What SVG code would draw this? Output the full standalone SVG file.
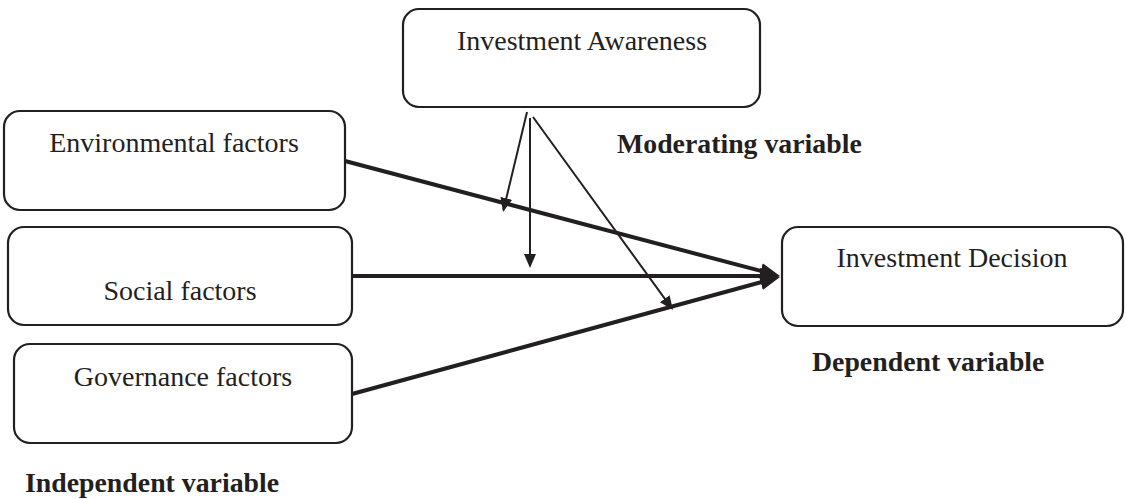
<svg xmlns="http://www.w3.org/2000/svg" width="1126" height="499" viewBox="0 0 1126 499">
<style>
.box{fill:#fff;stroke:#231f20;stroke-width:2.2}
.t{font-family:"Liberation Serif","Times New Roman",serif;font-size:28px;fill:#231f20;text-anchor:middle}
.b{font-family:"Liberation Serif","Times New Roman",serif;font-size:27.8px;font-weight:bold;fill:#231f20}
.thick{stroke:#231f20;stroke-width:4;fill:none}
.thin{stroke:#231f20;stroke-width:2;fill:none}
</style>
<defs>
<marker id="big" markerUnits="userSpaceOnUse" markerWidth="20" markerHeight="16" refX="14" refY="8" orient="auto" viewBox="0 0 20 16"><path d="M0,0 L20,8 L0,16 z" fill="#231f20"/></marker>
<marker id="small" markerUnits="userSpaceOnUse" markerWidth="14" markerHeight="12" refX="12" refY="6" orient="auto" viewBox="0 0 14 12"><path d="M0,0 L14,6 L0,12 z" fill="#231f20"/></marker>
</defs>
<rect width="1126" height="499" fill="#fff"/>
<g id="awareness"><rect class="box" x="403" y="9" width="357" height="98" rx="16"/><text class="t" x="582" y="50">Investment Awareness</text></g>
<g id="environmental"><rect class="box" x="4" y="111" width="341" height="99" rx="16"/><text class="t" x="174" y="152">Environmental factors</text></g>
<g id="social"><rect class="box" x="8" y="227" width="344" height="98" rx="16"/><text class="t" x="180" y="300">Social factors</text></g>
<g id="governance"><rect class="box" x="14" y="344" width="338" height="99" rx="16"/><text class="t" x="183" y="386">Governance factors</text></g>
<g id="decision"><rect class="box" x="782" y="227" width="341" height="99" rx="16"/><text class="t" x="952" y="267">Investment Decision</text></g>
<g id="labels">
<text class="b" x="617" y="153">Moderating variable</text>
<text class="b" x="812" y="371">Dependent variable</text>
<text class="b" x="25" y="492">Independent variable</text>
</g>
<g id="connectors">
<line class="thick" x1="345" y1="161" x2="774.2" y2="274.5" marker-end="url(#big)"/>
<line class="thick" x1="352" y1="276" x2="774" y2="276" marker-end="url(#big)"/>
<line class="thick" x1="352" y1="394" x2="774.2" y2="278.6" marker-end="url(#big)"/>
<line class="thin" x1="527" y1="112" x2="503.5" y2="210" marker-end="url(#small)"/>
<line class="thin" x1="530" y1="118" x2="530" y2="266" marker-end="url(#small)"/>
<line class="thin" x1="533" y1="117" x2="671.8" y2="308.4" marker-end="url(#small)"/>
</g>
</svg>
